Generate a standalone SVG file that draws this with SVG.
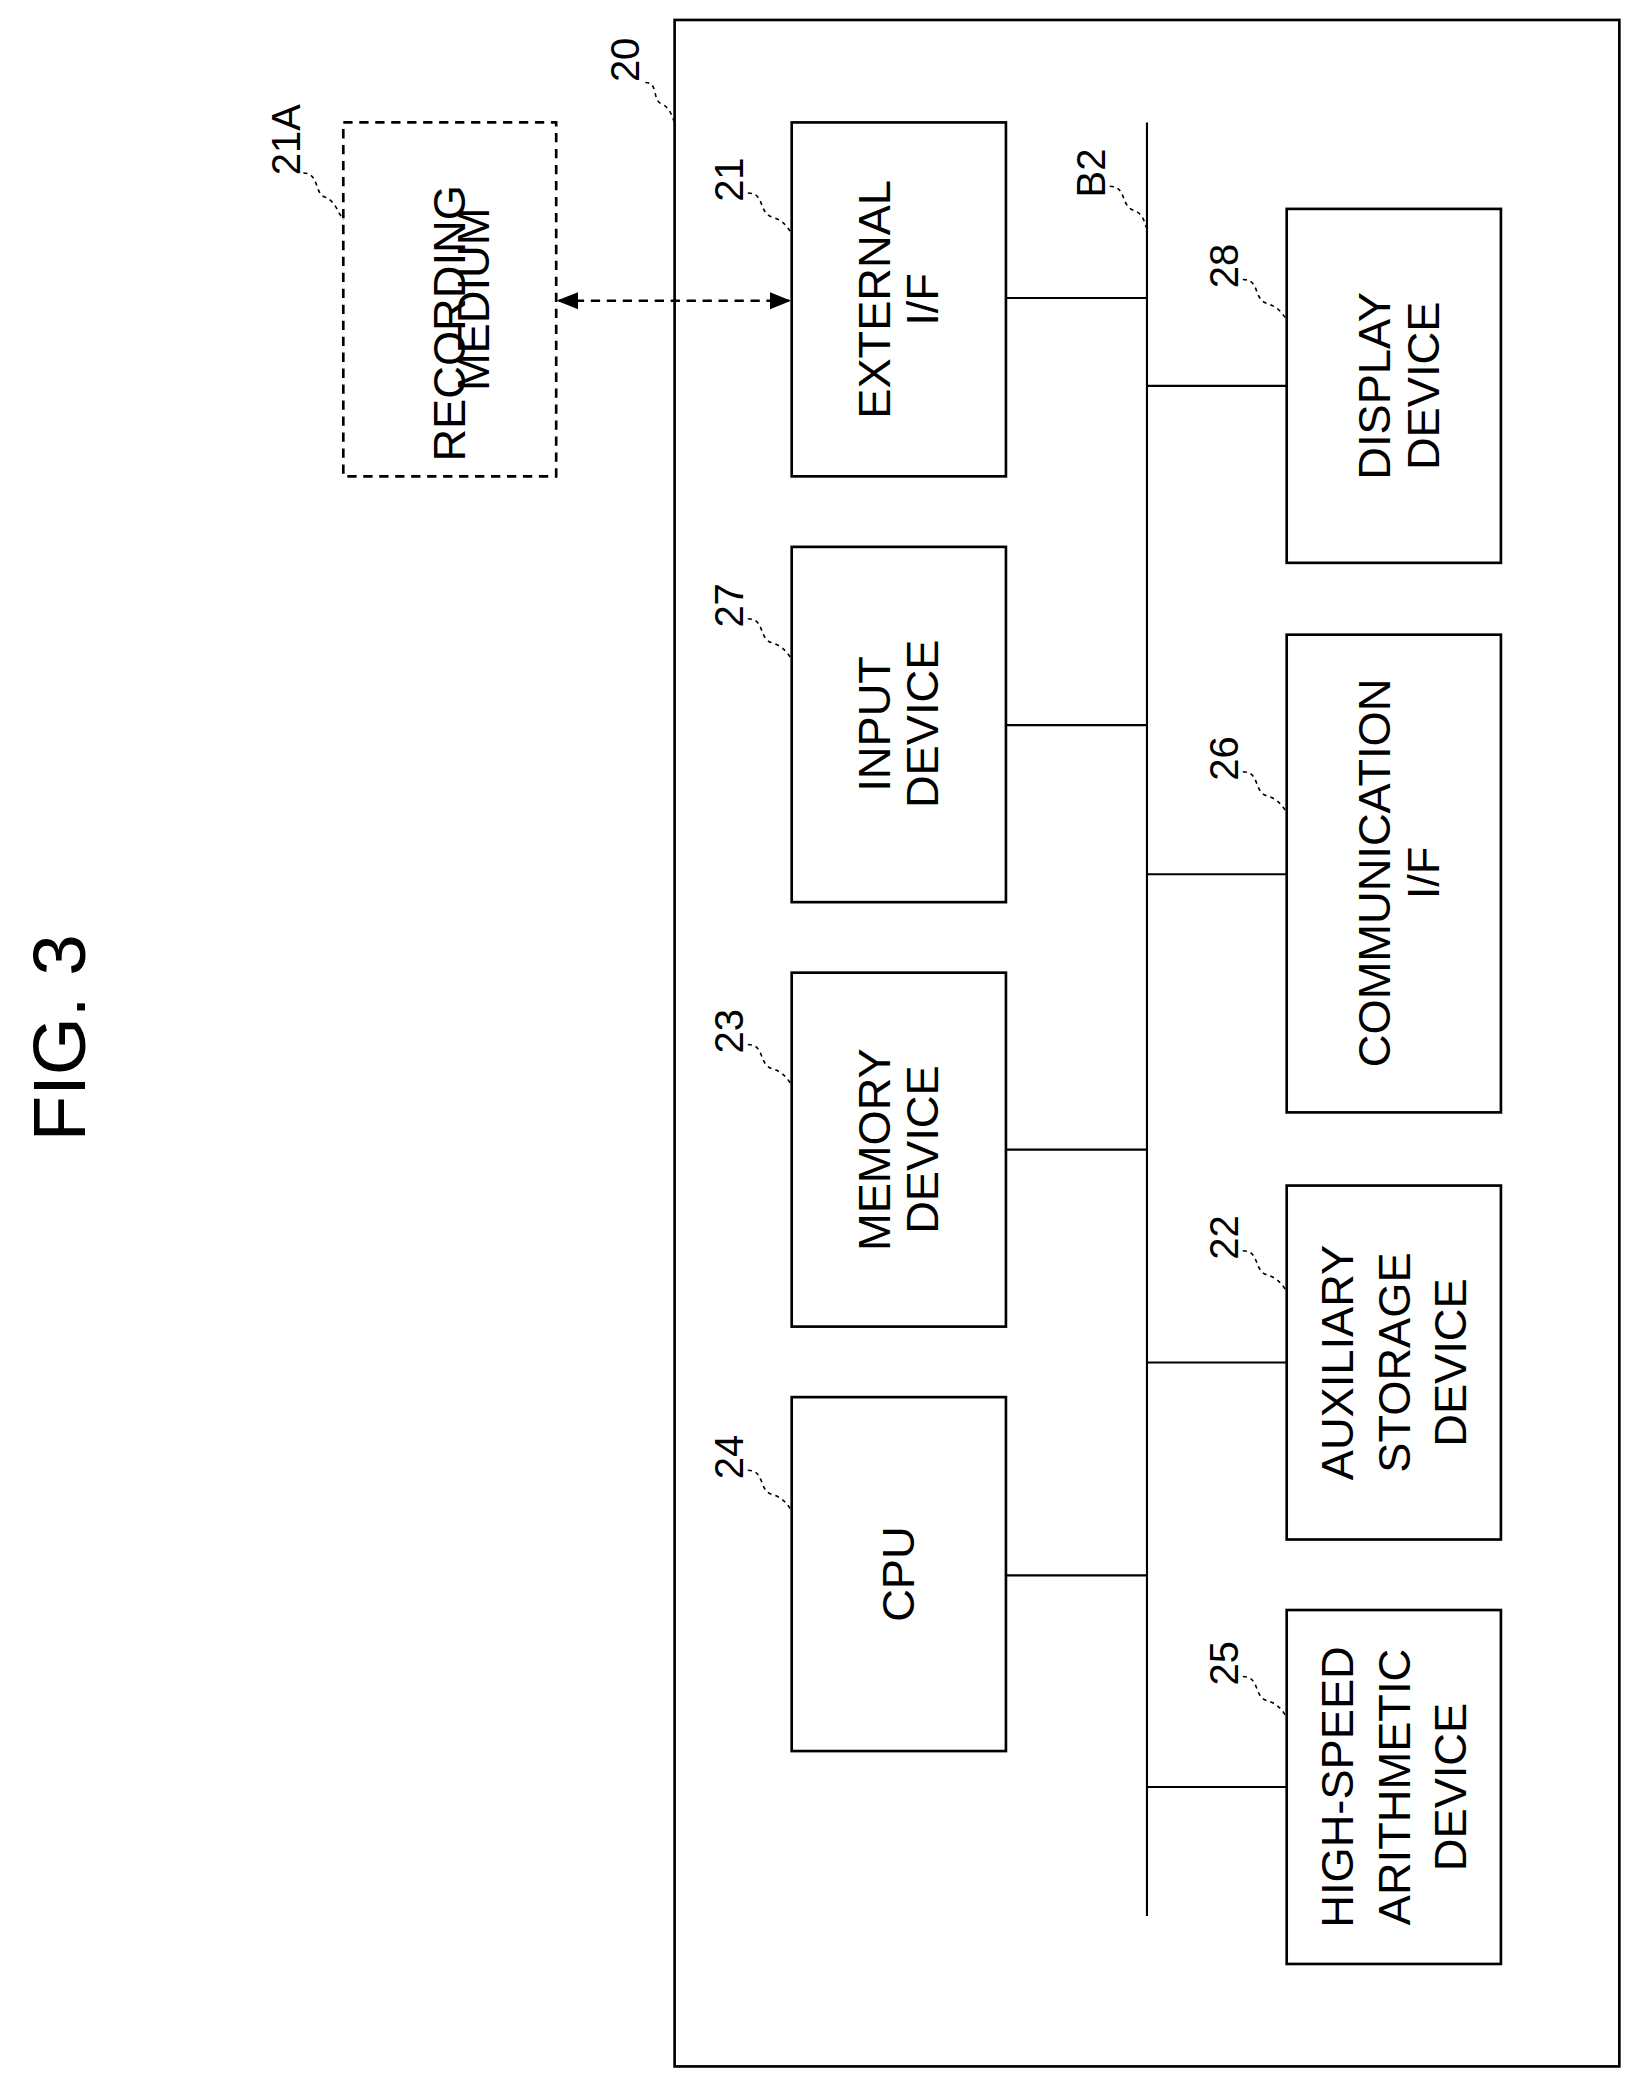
<svg xmlns="http://www.w3.org/2000/svg" width="1642" height="2088" viewBox="0 0 1642 2088">
<style>
.b{fill:#fff;stroke:#000;stroke-width:2}
.l{stroke:#000;stroke-width:1.6;fill:none}
.q{stroke:#000;stroke-width:1.2;fill:none;stroke-dasharray:3 3}
text{font-family:"Liberation Sans",Arial,sans-serif;font-size:34px;text-anchor:middle;dominant-baseline:central}
.n{font-size:30px}
</style>
<defs><marker id="ah" viewBox="0 0 10 10" refX="9" refY="5" markerWidth="8" markerHeight="8" orient="auto-start-reverse"><path d="M0,1 L10,5 L0,9 z" fill="#000"/></marker></defs>
<rect width="1642" height="2088" fill="#fff"/>
<g transform="scale(1.3306)">
<text transform="rotate(-90 45 780)" x="45" y="780" style="font-size:56px">FIG. 3</text>
<g id="n20"><rect class="b" x="507" y="15" width="710" height="1538"/><text class="n" transform="rotate(-90 470 45)" x="470" y="45">20</text><path class="q" d="M485,62 C495,62 490,75 497,78 C504,81 505,88 507,92"/></g>
<g id="n21A"><rect x="258" y="92" width="160" height="266" fill="#fff" stroke="#000" stroke-width="2" stroke-dasharray="7 5"/><text transform="rotate(-90 338 225)" x="320" y="225">RECORDING</text><text transform="rotate(-90 356 225)" x="356" y="225">MEDIUM</text><text class="n" transform="rotate(-90 215 105)" x="215" y="105">21A</text><path class="q" d="M228,130 C240,130 236,145 244,148 C252,151 254,160 258,165"/></g>
<g id="n21"><rect class="b" x="595" y="92" width="161" height="266"/><text transform="rotate(-90 657 225)" x="657" y="225">EXTERNAL</text><text transform="rotate(-90 693 225)" x="693" y="225">I/F</text><text class="n" transform="rotate(-90 548 135)" x="548" y="135">21</text><path class="q" d="M562,145 C575,145 570,160 580,163 C590,166 592,172 595,175"/></g>
<g id="n27"><rect class="b" x="595" y="411" width="161" height="267"/><text transform="rotate(-90 657 544)" x="657" y="544">INPUT</text><text transform="rotate(-90 693 544)" x="693" y="544">DEVICE</text><text class="n" transform="rotate(-90 548 455)" x="548" y="455">27</text><path class="q" d="M562,465 C575,465 570,480 580,483 C590,486 592,492 595,495"/></g>
<g id="n23"><rect class="b" x="595" y="731" width="161" height="266"/><text transform="rotate(-90 657 864)" x="657" y="864">MEMORY</text><text transform="rotate(-90 693 864)" x="693" y="864">DEVICE</text><text class="n" transform="rotate(-90 548 775)" x="548" y="775">23</text><path class="q" d="M562,785 C575,785 570,800 580,803 C590,806 592,812 595,815"/></g>
<g id="n24"><rect class="b" x="595" y="1050" width="161" height="266"/><text transform="rotate(-90 675 1183)" x="675" y="1183">CPU</text><text class="n" transform="rotate(-90 548 1095)" x="548" y="1095">24</text><path class="q" d="M562,1105 C575,1105 570,1120 580,1123 C590,1126 592,1132 595,1135"/></g>
<g id="n28"><rect class="b" x="967" y="157" width="161" height="266"/><text transform="rotate(-90 1033 290)" x="1033" y="290">DISPLAY</text><text transform="rotate(-90 1070 290)" x="1070" y="290">DEVICE</text><text class="n" transform="rotate(-90 920 200)" x="920" y="200">28</text><path class="q" d="M934,210 C947,210 942,225 952,228 C962,231 964,237 967,240"/></g>
<g id="n26"><rect class="b" x="967" y="477" width="161" height="359"/><text transform="rotate(-90 1033 656)" x="1033" y="656">COMMUNICATION</text><text transform="rotate(-90 1070 656)" x="1070" y="656">I/F</text><text class="n" transform="rotate(-90 920 570)" x="920" y="570">26</text><path class="q" d="M934,580 C947,580 942,595 952,598 C962,601 964,607 967,610"/></g>
<g id="n22"><rect class="b" x="967" y="891" width="161" height="266"/><text transform="rotate(-90 1005 1024)" x="1005" y="1024">AUXILIARY</text><text transform="rotate(-90 1048 1024)" x="1048" y="1024">STORAGE</text><text transform="rotate(-90 1090 1024)" x="1090" y="1024">DEVICE</text><text class="n" transform="rotate(-90 920 930)" x="920" y="930">22</text><path class="q" d="M934,940 C947,940 942,955 952,958 C962,961 964,967 967,970"/></g>
<g id="n25"><rect class="b" x="967" y="1210" width="161" height="266"/><text transform="rotate(-90 1005 1343)" x="1005" y="1343">HIGH-SPEED</text><text transform="rotate(-90 1048 1343)" x="1048" y="1343">ARITHMETIC</text><text transform="rotate(-90 1090 1343)" x="1090" y="1343">DEVICE</text><text class="n" transform="rotate(-90 920 1250)" x="920" y="1250">25</text><path class="q" d="M934,1260 C947,1260 942,1275 952,1278 C962,1281 964,1287 967,1290"/></g>
<g id="connectors">
<line class="l" x1="862" y1="92" x2="862" y2="1440"/>
<text class="n" transform="rotate(-90 820 130)" x="820" y="130">B2</text><path class="q" d="M834,140 C847,140 842,155 852,158 C860,161 860,168 862,172"/>
<line class="l" x1="756" y1="224" x2="862" y2="224"/>
<line class="l" x1="756" y1="545" x2="862" y2="545"/>
<line class="l" x1="756" y1="864" x2="862" y2="864"/>
<line class="l" x1="756" y1="1184" x2="862" y2="1184"/>
<line class="l" x1="862" y1="290" x2="967" y2="290"/>
<line class="l" x1="862" y1="657" x2="967" y2="657"/>
<line class="l" x1="862" y1="1024" x2="967" y2="1024"/>
<line class="l" x1="862" y1="1343" x2="967" y2="1343"/>
<line x1="420" y1="226" x2="593" y2="226" stroke="#000" stroke-width="2" stroke-dasharray="7 5" marker-start="url(#ah)" marker-end="url(#ah)"/>
</g>
</g>
</svg>
